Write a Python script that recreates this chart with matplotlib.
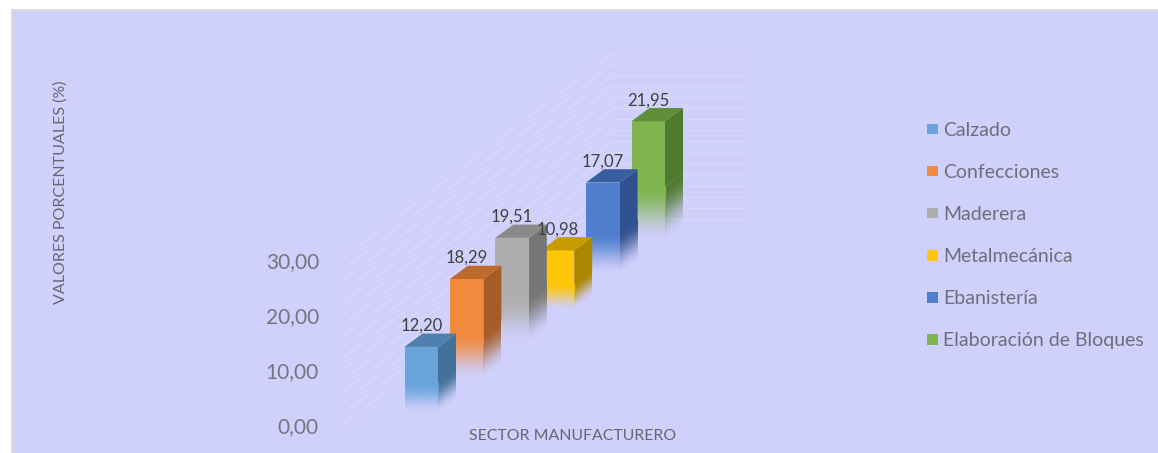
import numpy as np
import matplotlib
matplotlib.use("Agg")
import matplotlib.pyplot as plt
from matplotlib.patches import Rectangle, Patch
from matplotlib.transforms import Affine2D

sectors = ["Calzado", "Confecciones", "Maderera", "Metalmecánica", "Ebanistería", "Elaboración de Bloques"]
values = [12.20, 18.29, 19.51, 10.98, 17.07, 21.95]
value_labels = ["12,20", "18,29", "19,51", "10,98", "17,07", "21,95"]
front_colors = ["#69A5DC", "#F28A3E", "#AEAEAE", "#FFC60A", "#4F7ECE", "#7FB650"]
side_colors = ["#437199", "#A55C26", "#767676", "#AD8700", "#2F5190", "#4F7B2F"]
top_colors = ["#4F80AE", "#BE6A2C", "#8A8A8A", "#C79C00", "#375E9F", "#5F8F3A"]
ticks = [0, 10, 20, 30]
tick_labels = ["0,00", "10,00", "20,00", "30,00"]
grid_values = np.arange(0, 31, 2)

BG = "#D0D0FC"
px_per_unit = 5.5
bar_w = 33.5
depth = np.array([18.0, -13.3])
origin = np.array([404.5, 414.0])
step = np.array([45.4, -34.4])
fade_share = 0.46


def front_base(i):
    return origin + step * i


def draw_face(ax, corners, value, color):
    # corners: base-left and base-right of the face, extruded up by value
    a, b = corners
    h = value * px_per_unit
    split = h * fade_share
    ax.fill([a[0], b[0], b[0], a[0]],
            [a[1] - h, b[1] - h, b[1] - split, a[1] - split],
            color=color, lw=0, zorder=3)
    # lower part fades into the background, sheared along the face
    w = np.linspace(0, 1, 64)
    rgba = np.zeros((64, 2, 4))
    rgba[:, :, :3] = matplotlib.colors.to_rgb(color)
    rgba[:, :, 3] = (3 * w ** 2 - 2 * w ** 3)[:, None]
    shear = Affine2D(np.array([[b[0] - a[0], 0, a[0]],
                               [b[1] - a[1], -split, a[1]],
                               [0, 0, 1]]))
    ax.imshow(rgba, extent=[0, 1, 0, 1], origin="lower", aspect="auto",
              interpolation="bilinear", transform=shear + ax.transData, zorder=3)


fig = plt.figure(figsize=(11.58, 4.53), dpi=100, facecolor="white")
ax = fig.add_axes([0, 0, 1, 1])
ax.axis("off")

ax.add_patch(Rectangle((11, 9), 1160, 460, facecolor="#DADADA", edgecolor="none", zorder=0))
ax.add_patch(Rectangle((13, 11), 1160, 460, facecolor=BG, edgecolor="none", zorder=0))

# side wall and back wall grid
wall_unit = 5.55
wall_front = np.array([340.0, 427.0])
wall_back = np.array([613.0, 219.5])
wall_right = 746.0
for v in grid_values:
    lift = v * wall_unit
    ax.plot([wall_front[0], wall_back[0], wall_right],
            [wall_front[1] - lift, wall_back[1] - lift, wall_back[1] - lift],
            color="#DADAFB", lw=0.8, zorder=1)

# bars go back to front so the nearer ones cover the farther ones
for i in range(len(values) - 1, -1, -1):
    base = front_base(i)
    right = base + np.array([bar_w, 0])
    h = values[i] * px_per_unit
    draw_face(ax, (right, right + depth), values[i], side_colors[i])
    draw_face(ax, (base, right), values[i], front_colors[i])
    ax.fill([base[0], right[0], right[0] + depth[0], base[0] + depth[0]],
            [base[1] - h, right[1] - h, right[1] + depth[1] - h, base[1] + depth[1] - h],
            color=top_colors[i], lw=0, zorder=3)

for i, label in enumerate(value_labels):
    base = front_base(i)
    ax.text(base[0] + bar_w / 2, base[1] - values[i] * px_per_unit - 21, label,
            ha="center", va="center", fontsize=12, color="#404040", family="Lato", zorder=5)

for t, label in zip(ticks, tick_labels):
    ax.text(319, 427 - t * px_per_unit, label, ha="right", va="center",
            fontsize=15, color="#75757F", family="Lato")

ax.text(572.5, 435.5, "SECTOR MANUFACTURERO", ha="center", va="center",
        fontsize=11.4, color="#666672", family="Lato")
ax.text(61, 192, "VALORES PORCENTUALES (%)", rotation=90, ha="center", va="center",
        fontsize=11.5, color="#666672", family="Lato")

ax.set_xlim(0, 1158)
ax.set_ylim(453, 0)

handles = [Patch(facecolor=c, edgecolor="none") for c in front_colors]
ax.legend(handles, sectors, loc="upper left", bbox_to_anchor=(927 / 1158, 1 - 122 / 453),
          frameon=False, labelcolor="#6E6E7A", prop={"family": "Lato", "size": 14},
          handlelength=0.55, handleheight=0.45, handletextpad=0.27, labelspacing=1.29,
          borderpad=0, borderaxespad=0)

fig.savefig("out.png", dpi=100, facecolor=fig.get_facecolor())
